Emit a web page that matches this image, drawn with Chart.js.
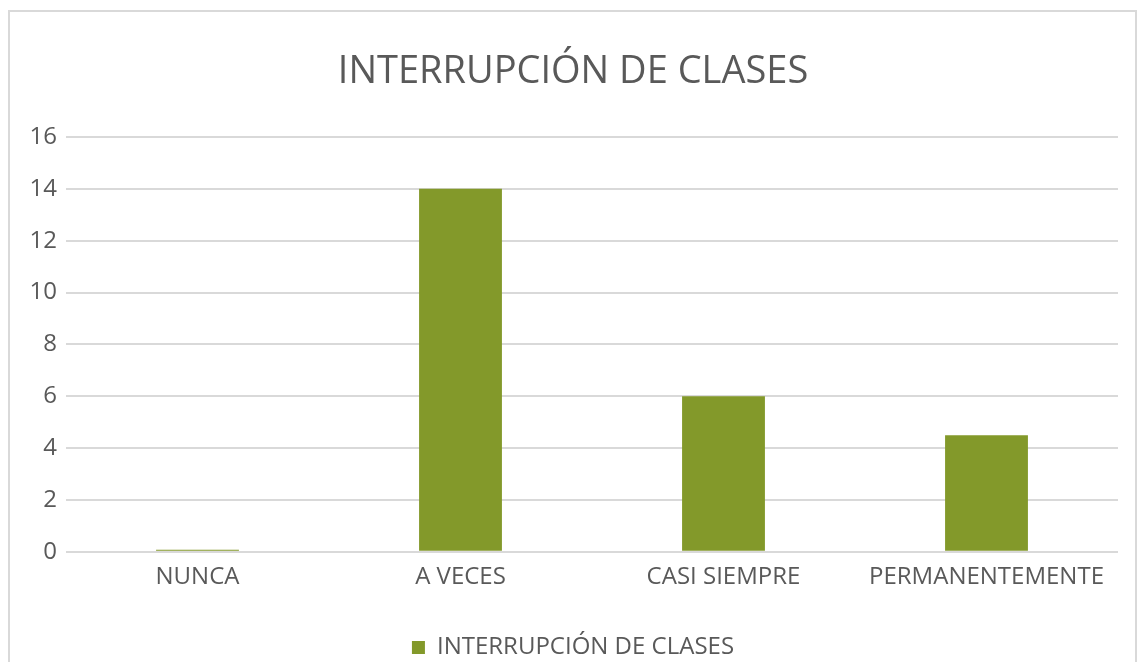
<!DOCTYPE html>
<html><head><meta charset="utf-8">
<script src="https://cdn.jsdelivr.net/npm/chart.js@4/dist/chart.umd.min.js"></script>
<style>
html,body{margin:0;padding:0;background:#fff;overflow:hidden;}
#frame{position:absolute;left:8px;top:10px;width:1129px;height:700px;border:2px solid #d9d9d9;box-sizing:border-box;}
#wrap{position:absolute;left:0;top:0;width:1140px;height:662px;}
</style></head>
<body>
<div id="frame"></div>
<div id="wrap"><canvas id="c" width="1140" height="662"></canvas></div>
<script>
const categories = ["NUNCA", "A VECES", "CASI SIEMPRE", "PERMANENTEMENTE"];
const seriesName = "INTERRUPCIÓN DE CLASES";
const values = [0, 14, 6, 4.5];
const yTicks = [0, 2, 4, 6, 8, 10, 12, 14, 16];

const FONT = "'Open Sans', 'Noto Sans', sans-serif";
const TXT = "#595959";
const GREEN = "#83992A";

new Chart(document.getElementById('c'), {
  type: 'bar',
  data: {
    labels: categories,
    datasets: [{
      label: seriesName,
      data: values,
      backgroundColor: GREEN,
      borderWidth: 0,
      minBarLength: 2,
      categoryPercentage: 1,
      barPercentage: 0.315
    }]
  },
  options: {
    responsive: false,
    animation: false,
    devicePixelRatio: 1,
    layout: { padding: { top: 10, right: 22, bottom: -7.4, left: 28 } },
    plugins: {
      title: {
        display: true,
        text: seriesName,
        color: TXT,
        font: { family: FONT, size: 38, weight: 'normal' },
        padding: { top: 39.2, bottom: 42.2 }
      },
      legend: {
        position: 'bottom',
        labels: {
          color: TXT,
          font: { family: FONT, size: 24 },
          boxWidth: 13,
          boxHeight: 13,
          padding: 6
        }
      },
      tooltip: { enabled: false }
    },
    scales: {
      x: {
        grid: { display: false, drawTicks: false },
        border: { display: false },
        ticks: { color: TXT, font: { family: FONT, size: 24 }, padding: 11, maxRotation: 0 },
        afterFit: s => { s.height = 77.6; }
      },
      y: {
        min: 0, max: 16,
        afterBuildTicks: s => { s.ticks = yTicks.map(v => ({ value: v })); },
        grid: { color: '#d9d9d9', lineWidth: 2, drawTicks: false },
        border: { display: false },
        ticks: { color: TXT, font: { family: FONT, size: 24 }, padding: 9 },
        afterFit: s => { s.width = 38; }
      }
    }
  }
});
</script>
</body></html>
